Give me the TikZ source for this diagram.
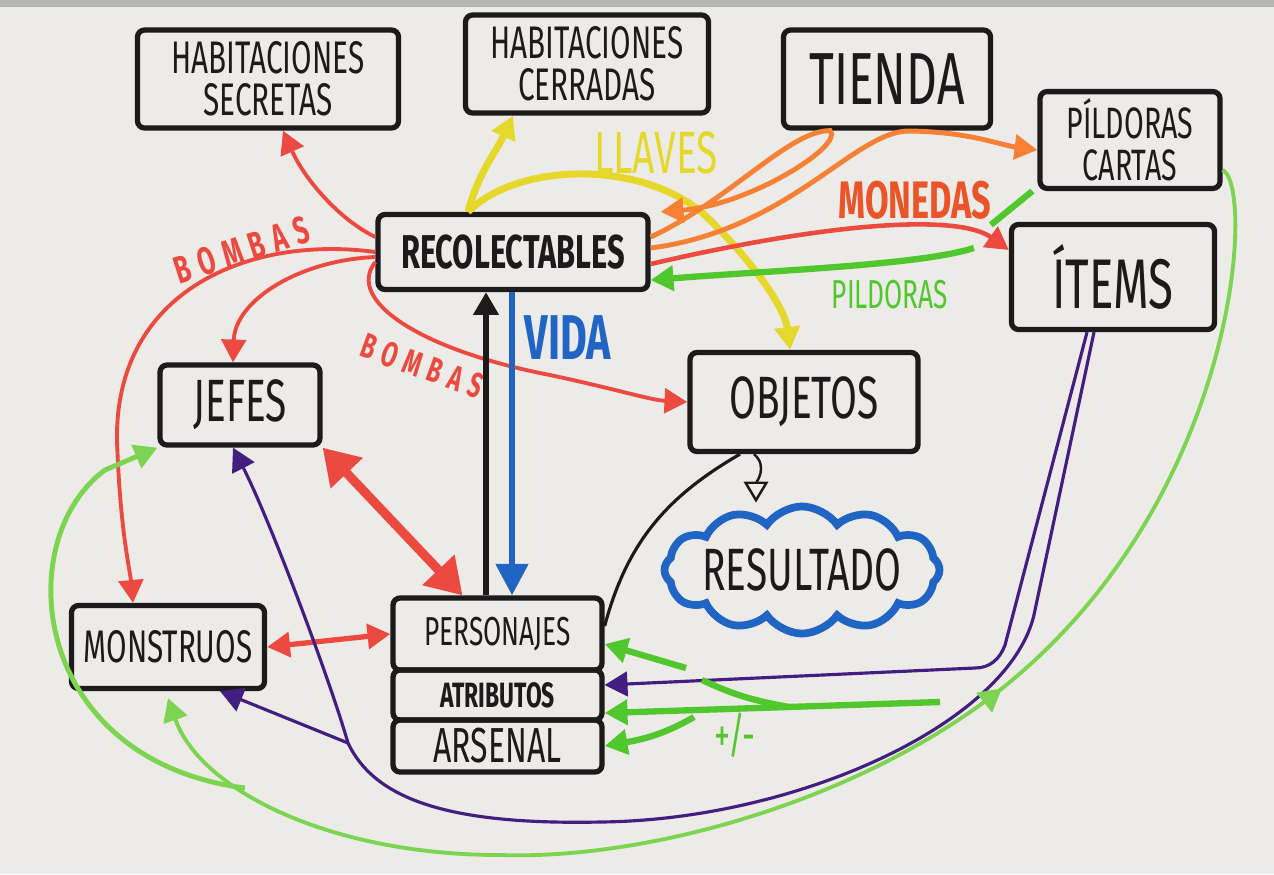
\documentclass[tikz,border=0pt]{standalone}
\usepackage{fontspec}
\newfontfamily\hand{Fira Sans}[FakeStretch=0.65]
\newfontfamily\handwide{Fira Sans}[FakeStretch=0.65,LetterSpace=22]
\usetikzlibrary{positioning,arrows.meta,shapes.symbols,decorations.markings}
\definecolor{board}{RGB}{236,235,232}
\definecolor{frame}{RGB}{182,182,180}
\definecolor{ink}{RGB}{28,26,26}
\definecolor{mred}{RGB}{236,74,64}
\definecolor{mmonedas}{RGB}{234,84,40}
\definecolor{morange}{RGB}{246,128,52}
\definecolor{myellow}{RGB}{230,216,42}
\definecolor{mgreen}{RGB}{80,200,45}
\definecolor{lgreen}{RGB}{125,212,80}
\definecolor{mpurple}{RGB}{66,30,128}
\definecolor{mblue}{RGB}{32,100,196}
\newcommand\hw[2]{\hand\fontsize{#1}{#2}\selectfont}
\newcommand\hwwide[2]{\handwide\fontsize{#1}{#2}\selectfont}
\begin{document}
\begin{tikzpicture}[
    box/.style={draw=ink, line width=1.5pt, rounded corners=2pt, align=center, text=ink, inner sep=2pt},
    redline/.style={draw=mred, line width=1.1pt},
    redthick/.style={draw=mred, line width=2.6pt},
    orangeline/.style={draw=morange, line width=1.4pt},
    yellowline/.style={draw=myellow, line width=2pt},
    greenthick/.style={draw=mgreen, line width=1.8pt},
    greenthin/.style={draw=lgreen, line width=1.1pt},
    purpleline/.style={draw=mpurple, line width=0.9pt},
    arr/.style={-{Triangle[length=6.5pt,width=7pt]}},
    arrbig/.style={-{Triangle[length=9pt,width=9pt]}},
    darr/.style={{Triangle[length=6.5pt,width=7pt]}-{Triangle[length=6.5pt,width=7pt]}},
    darrbig/.style={{Triangle[length=10pt,width=12pt]}-{Triangle[length=10pt,width=12pt]}}
  ]
  % whiteboard
  \fill[board] (0,0) rectangle (12.74,-8.74);
  \fill[frame] (0,0) rectangle (12.74,-0.07);
  \useasboundingbox (0,0) rectangle (12.74,-8.74);

  % top row
  \node[box, minimum width=2.61cm, minimum height=0.98cm, font=\hw{13}{12}] (hsec) at (2.68,-0.79) {HABITACIONES\\SECRETAS};
  \node[box, minimum width=2.43cm, minimum height=0.98cm, font=\hw{13}{12}] (hcer) at (5.87,-0.64) {HABITACIONES\\CERRADAS};
  \node[box, minimum width=2.07cm, minimum height=0.98cm, font=\hw{21}{21}] (tienda) at (8.87,-0.79) {TIENDA};
  \node[box, minimum width=1.80cm, minimum height=0.95cm, font=\hw{12.5}{12}] (pild) at (11.30,-1.40) {PÍLDORAS\\CARTAS};
  \node[box, minimum width=2.03cm, minimum height=1.05cm, font=\hw{20}{20}] (items) at (11.13,-2.77) {ÍTEMS};

  % middle
  \node[box, minimum width=2.70cm, minimum height=0.75cm, font=\bfseries\hw{13.5}{13.5}] (recol) at (5.13,-2.52) {RECOLECTABLES};
  \node[box, minimum width=1.60cm, minimum height=0.80cm, font=\hw{17}{17}] (jefes) at (2.40,-4.05) {JEFES};
  \node[box, minimum width=2.28cm, minimum height=0.99cm, font=\hw{17}{17}] (objetos) at (8.04,-4.02) {OBJETOS};
  \node[cloud, draw=mblue, line width=2.2pt, cloud puffs=12, cloud puff arc=110, aspect=2.9,
        minimum width=2.7cm, minimum height=0.95cm, inner sep=-1pt, text=ink, font=\hw{17}{17}] (result) at (8.02,-5.70) {RESULTADO};

  % bottom
  \node[box, minimum width=1.93cm, minimum height=0.83cm, font=\hw{13}{13}] (monstr) at (1.68,-6.47) {MONSTRUOS};
  \node[box, minimum width=2.09cm, minimum height=0.72cm, font=\hw{11.5}{11.5}] (pers) at (4.975,-6.34) {PERSONAJES};
  \node[box, below=-1.5pt of pers, minimum width=2.09cm, minimum height=0.50cm, font=\bfseries\hw{10}{10}] (atrib) {ATRIBUTOS};
  \node[box, below=-1.5pt of atrib, minimum width=2.09cm, minimum height=0.52cm, font=\hw{14}{14}] (arsen) {ARSENAL};

  % red bombs
  \draw[redline, arr] ([yshift=1.5mm]recol.west) .. controls (3.4,-2.2) and (3.05,-1.8) .. ([xshift=1.5mm]hsec.south);
  \draw[redline, arr] ([yshift=-0.5mm]recol.west) .. controls (3.0,-2.6) and (2.35,-3.0) .. ([xshift=-0.7mm]jefes.north);
  \draw[redline, arr] (recol.west) .. controls (2.5,-2.35) and (1.15,-2.9) .. (1.17,-4.4)
        .. controls (1.2,-5.3) and (1.3,-5.7) .. ([xshift=-3.5mm]monstr.north);
  \draw[redline, arr] ([yshift=-1mm]recol.west) .. controls (3.45,-3.0) and (4.2,-3.5) .. (5.5,-3.75)
        .. controls (6.2,-3.9) and (6.5,-4.0) .. (objetos.west);
  \node[font=\bfseries\hwwide{11}{11}, text=mred, rotate=18] (bombasa) at (2.42,-2.50) {BOMBAS};
  \node[font=\bfseries\hwwide{10}{10}, text=mred, rotate=-20] (bombasb) at (4.22,-3.66) {BOMBAS};

  % yellow keys
  \draw[yellowline, arr] ([xshift=-4.5mm]recol.north) to[out=75,in=-115] ([xshift=-7.4mm]hcer.south);
  \draw[yellowline, arr] ([xshift=-4.5mm]recol.north) .. controls (5.2,-1.6) and (6.5,-1.6) .. (7.1,-2.2)
        .. controls (7.6,-2.7) and (7.85,-3.1) .. ([xshift=-1.4mm]objetos.north);
  \node[font=\hw{17}{17}, text=myellow] (llaves) at (6.56,-1.53) {LLAVES};

  % shop
  \draw[orangeline, arr] ([yshift=1.5mm]recol.east) .. controls (7.3,-2.0) and (7.9,-1.3) .. ([xshift=-5.7mm]tienda.south)
        .. controls (8.45,-1.45) and (7.5,-2.05) .. ([xshift=1mm]recol.north east);
  \draw[orangeline, arr] ([yshift=0.4mm]recol.east) .. controls (7.9,-2.3) and (8.55,-1.3) .. (9.1,-1.31)
        .. controls (9.7,-1.32) and (10.0,-1.45) .. ([yshift=-1mm]pild.west);
  \draw[redline, line width=1.3pt, arr] ([yshift=-1.2mm]recol.east) .. controls (8.4,-2.2) and (9.6,-2.15) .. ([yshift=2.7mm]items.west);
  \node[font=\bfseries\hw{15}{15}, text=mmonedas] (monedas) at (9.15,-2.00) {MONEDAS};
  \draw[greenthick, arr] ([xshift=-3.5mm,yshift=2.9mm]items.west) .. controls (9.2,-2.65) and (7.8,-2.7) .. ([yshift=-2.8mm]recol.east);
  \node[font=\hw{11.5}{11.5}, text=mgreen] (pildoras) at (8.90,-2.95) {PILDORAS};
  \draw[greenthick] ([xshift=-1.8mm,yshift=-0.3mm]items.north west) -- ([xshift=-0.5mm]pild.south west);

  % life
  \coordinate (upx) at (4.86,0);
  \coordinate (downx) at (5.12,0);
  \draw[ink, line width=1.6pt, arr] (pers.north -| upx) -- (recol.south -| upx);
  \draw[mblue, line width=1.8pt, arrbig] (recol.south -| downx) -- (pers.north -| downx);
  \node[font=\bfseries\hw{18}{18}, text=mblue] (vida) at (5.68,-3.38) {VIDA};

  % fights
  \draw[redthick, darrbig] (jefes.south east) -- ([xshift=-3.5mm]pers.north);
  \draw[redline, line width=1.5pt, darr] (monstr.east) -- (pers.west);

  % objects
  \draw[ink, line width=0.9pt] ([xshift=-6.4mm]objetos.south) to[out=-150,in=75] ([yshift=0.8mm]pers.east);
  \draw[ink, line width=0.7pt, -{Triangle[open,length=6pt,width=7pt]}] ([xshift=-5mm]objetos.south) to[out=-40,in=90] ([xshift=-4.6mm]result.north);

  % items (purple)
  \draw[purpleline, arr] ([xshift=-2.6mm]items.south) -- (10.05,-6.45) to[out=-110,in=0] (9.75,-6.68) -- ([yshift=1mm]atrib.east);
  \draw[purpleline, arr] ([xshift=-1.9mm]items.south) -- (10.35,-6.1) .. controls (10.15,-7.2) and (8.0,-8.2) .. (6.0,-8.22)
        .. controls (4.5,-8.25) and (3.75,-8.0) .. (3.48,-7.43) coordinate (pfork)
        .. controls (3.3,-6.8) and (2.7,-5.2) .. ([xshift=-0.7mm]jefes.south);
  \draw[purpleline, arr] (pfork) -- ([xshift=5.2mm]monstr.south);

  % pills and cards (green)
  \draw[greenthin, arr, postaction={decorate, decoration={markings,
        mark=at position 0.39 with {\arrowreversed{Triangle[length=6.5pt,width=7pt]}}}}]
        ([yshift=-3mm]pild.east) .. controls (12.55,-1.85) and (12.4,-5.0) .. (10.0,-6.9)
        .. controls (8.6,-8.0) and (6.5,-8.6) .. (5.0,-8.55)
        .. controls (3.3,-8.55) and (2.0,-7.9) .. ([yshift=-0.7mm]monstr.south);
  \coordinate (gleft) at (2.45,-7.88);
  \draw[greenthin, line width=1.4pt, arr] (gleft) .. controls (0.3,-7.6) and (0.1,-5.4) .. (1.05,-4.70) -- (jefes.south west);

  % attribute changes
  \coordinate (gpers) at (6.86,-6.68);
  \coordinate (gattr) at (9.40,-7.02);
  \coordinate (gbranch) at (7.02,-6.80);
  \coordinate (garsen) at (6.94,-7.17);
  \draw[greenthick, arr] (gpers) -- ([yshift=-1mm]pers.east);
  \draw[greenthick, arr] (gattr) -- coordinate[pos=0.45] (gjoin) ([yshift=-1.8mm]atrib.east);
  \draw[greenthick] (gbranch) to[out=-25,in=170] (gjoin);
  \draw[greenthick, arr] (garsen) to[out=-150,in=10] (arsen.east);
  \node[font=\hw{14}{14}, text=mgreen] (pm) at (7.35,-7.35) {+/-};
\end{tikzpicture}
\end{document}
